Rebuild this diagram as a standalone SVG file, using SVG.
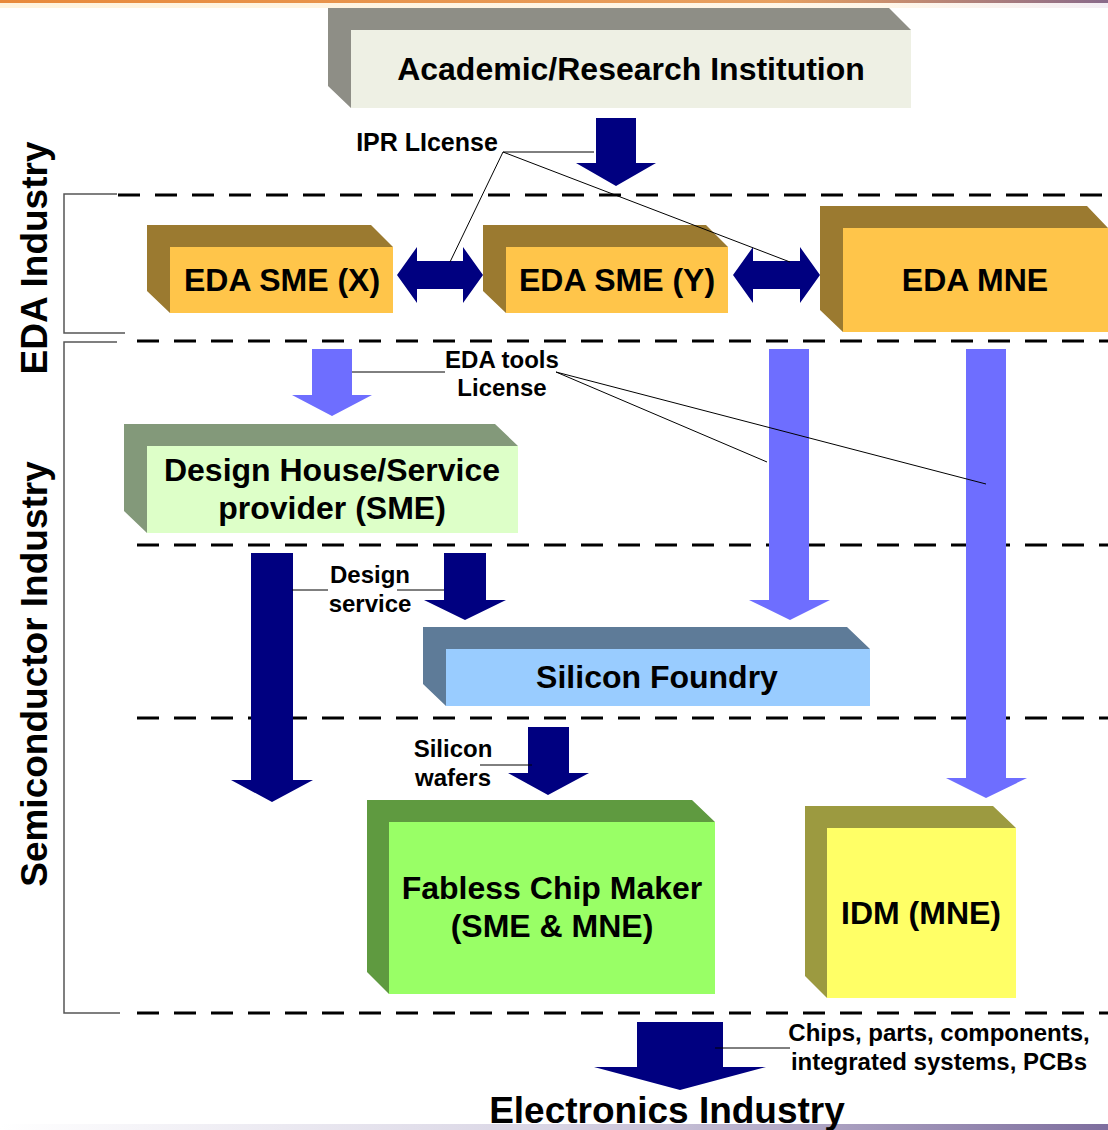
<svg xmlns="http://www.w3.org/2000/svg" width="1108" height="1130" viewBox="0 0 1108 1130">
<defs>
<linearGradient id="topg" x1="0" y1="0" x2="1" y2="0">
<stop offset="0" stop-color="#E8893A"/><stop offset="0.7" stop-color="#E8A060"/><stop offset="1" stop-color="#8A6A8A"/>
</linearGradient>
<linearGradient id="topg2" x1="0" y1="0" x2="1" y2="0">
<stop offset="0" stop-color="#FFF3DC"/><stop offset="0.8" stop-color="#FFF6E8"/><stop offset="1" stop-color="#F4EEF4"/>
</linearGradient>
<linearGradient id="botg" x1="0" y1="0" x2="1" y2="0">
<stop offset="0" stop-color="#FFFFFF"/><stop offset="0.5" stop-color="#D8D4E4"/><stop offset="1" stop-color="#7E6E9E"/>
</linearGradient>
</defs>
<style>
text{font-family:"Liberation Sans",Arial,sans-serif;font-weight:bold;fill:#000;text-anchor:middle}
.big{font-size:32px}
.lbl{font-size:24px}
.side{font-size:37px}
.dash{stroke:#000;stroke-width:3;stroke-dasharray:22 15;fill:none}
.lead{stroke:#000;stroke-width:1;fill:none}
.brk{stroke:#555;stroke-width:1.5;fill:none}
.navy{fill:#000080}
.lb{fill:#6E6EFF}
</style>
<rect x="0" y="0" width="1108" height="1130" fill="#fff"/>
<rect x="0" y="0" width="1108" height="3" fill="url(#topg)"/>
<rect x="0" y="3" width="1108" height="5" fill="url(#topg2)"/>
<rect x="0" y="1124" width="1108" height="6" fill="url(#botg)"/>

<g id="dividers">
<line class="dash" x1="118" y1="195" x2="1108" y2="195"/>
<line class="dash" x1="137" y1="341" x2="1108" y2="341"/>
<line class="dash" x1="137" y1="545" x2="1108" y2="545"/>
<line class="dash" x1="137" y1="718" x2="1108" y2="718"/>
<line class="dash" x1="137" y1="1013" x2="1108" y2="1013"/>
<polyline class="brk" points="117,194 64,194 64,333 125,333"/>
<polyline class="brk" points="117,342 64,342 64,1013 120,1013"/>
</g>

<g id="side-labels">
<text class="side" transform="translate(47,258) rotate(-90)">EDA Industry</text>
<text class="side" transform="translate(47,674) rotate(-90)">Semiconductor Industry</text>
</g>

<g id="academic">
<polygon points="328,8 889,8 911,30 351,30 351,108 328,86" fill="#8E8E86"/>
<rect x="351" y="30" width="560" height="78" fill="#EEF0E4"/>
<text class="big" x="631" y="80">Academic/Research Institution</text>
</g>

<g id="eda-sme-x">
<polygon points="147,225 371,225 393,247 170,247 170,313 147,291" fill="#9B7A30"/>
<rect x="170" y="247" width="223" height="66" fill="#FFC54A"/>
<text class="big" x="282" y="291">EDA SME (X)</text>
</g>

<g id="eda-sme-y">
<polygon points="483,225 706,225 728,247 506,247 506,313 483,291" fill="#9B7A30"/>
<rect x="506" y="247" width="222" height="66" fill="#FFC54A"/>
<text class="big" x="617" y="291">EDA SME (Y)</text>
</g>

<g id="eda-mne">
<polygon points="820,206 1087,206 1108,228 843,228 843,332 820,310" fill="#9B7A30"/>
<rect x="843" y="228" width="265" height="104" fill="#FFC54A"/>
<text class="big" x="975" y="291">EDA MNE</text>
</g>

<g id="design-house">
<polygon points="124,424 495,424 518,446 147,446 147,533 124,511" fill="#83997A"/>
<rect x="147" y="446" width="371" height="87" fill="#DDFFC8"/>
<text class="big" x="332" y="481">Design House/Service</text>
<text class="big" x="332" y="519">provider (SME)</text>
</g>

<g id="silicon-foundry">
<polygon points="423,627 847,627 870,649 446,649 446,706 423,684" fill="#5E7B98"/>
<rect x="446" y="649" width="424" height="57" fill="#99CCFF"/>
<text class="big" x="657" y="688">Silicon Foundry</text>
</g>

<g id="fabless">
<polygon points="367,800 692,800 715,822 389,822 389,994 367,972" fill="#5F9A40"/>
<rect x="389" y="822" width="326" height="172" fill="#99FF66"/>
<text class="big" x="552" y="899">Fabless Chip Maker</text>
<text class="big" x="552" y="937">(SME &amp; MNE)</text>
</g>

<g id="idm">
<polygon points="805,806 993,806 1016,828 827,828 827,998 805,976" fill="#9C9A40"/>
<rect x="827" y="828" width="189" height="170" fill="#FFFF66"/>
<text class="big" x="921" y="924">IDM (MNE)</text>
</g>

<g id="electronics">
<text x="667" y="1123" style="font-size:37px">Electronics Industry</text>
</g>

<g id="connectors">
<polygon class="navy" points="596,118 636,118 636,163 656,163 616,186 576,163 596,163"/>
<polygon class="navy" points="397,275 417,247 417,261 463,261 463,247 483,275 463,303 463,289 417,289 417,303"/>
<polygon class="navy" points="733,275 753,247 753,261 800,261 800,247 820,275 800,303 800,289 753,289 753,303"/>
<polygon class="lb" points="312,349 352,349 352,395 372,395 332,416 292,395 312,395"/>
<polygon class="lb" points="769,349 809,349 809,600 830,600 790,620 749,600 769,600"/>
<polygon class="lb" points="966,349 1006,349 1006,778 1027,778 986,798 946,778 966,778"/>
<polygon class="navy" points="251,553 293,553 293,780 313,780 272,802 231,780 251,780"/>
<polygon class="navy" points="444,553 486,553 486,600 506,600 465,620 424,600 444,600"/>
<polygon class="navy" points="528,727 569,727 569,773 589,773 548,795 508,773 528,773"/>
<polygon class="navy" points="637,1022 723,1022 723,1067 766,1067 680,1090 594,1067 637,1067"/>
</g>

<g id="annotations">
<text class="lbl" x="427" y="151" style="font-size:25px">IPR LIcense</text>
<polyline class="lead" points="594,152 503,152 450,262"/>
<line class="lead" x1="503" y1="152" x2="790" y2="262"/>
<text class="lbl" x="502" y="368">EDA tools</text>
<text class="lbl" x="502" y="396">License</text>
<line class="lead" x1="352" y1="372" x2="445" y2="372"/>
<line class="lead" x1="556" y1="372" x2="767" y2="462"/>
<line class="lead" x1="556" y1="372" x2="986" y2="484"/>
<text class="lbl" x="370" y="583">Design</text>
<text class="lbl" x="370" y="612">service</text>
<line class="lead" x1="292" y1="590" x2="328" y2="590"/>
<line class="lead" x1="397" y1="590" x2="444" y2="590"/>
<text class="lbl" x="453" y="757">Silicon</text>
<text class="lbl" x="453" y="786">wafers</text>
<line class="lead" x1="480" y1="765" x2="532" y2="765"/>
<text class="lbl" x="939" y="1041">Chips, parts, components,</text>
<text class="lbl" x="939" y="1070">integrated systems, PCBs</text>
<line class="lead" x1="715" y1="1048" x2="790" y2="1048"/>
</g>
</svg>
